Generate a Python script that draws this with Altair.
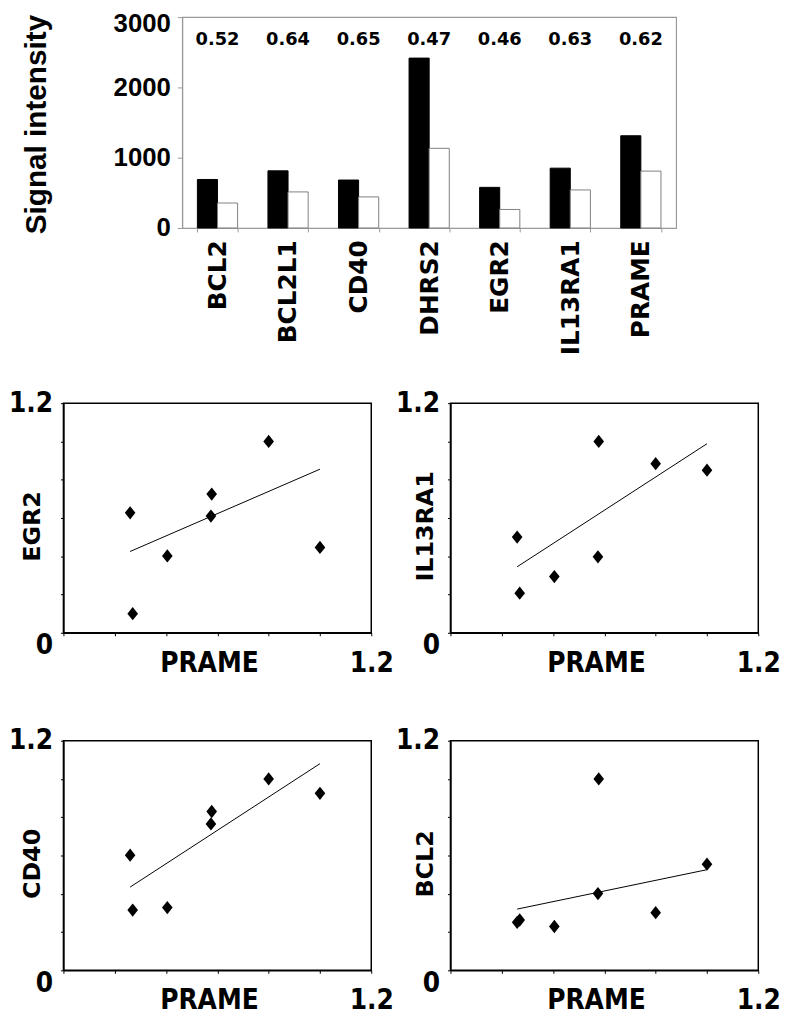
import altair as alt
import pandas as pd

# ---------------- data ----------------
genes = ["BCL2", "BCL2L1", "CD40", "DHRS2", "EGR2", "IL13RA1", "PRAME"]
black_values = [690, 813, 682, 2417, 578, 851, 1312]
white_values = [355, 513, 442, 1133, 263, 541, 809]
ratio_labels = ["0.52", "0.64", "0.65", "0.47", "0.46", "0.63", "0.62"]
groups = ["Group 1", "Group 2"]

prame = [0.26, 0.27, 0.405, 0.578, 0.575, 0.80, 1.00]
egr2 = [0.627, 0.100, 0.402, 0.725, 0.610, 1.00, 0.446]
il13ra1 = [0.50, 0.207, 0.294, 1.00, 0.397, 0.884, 0.85]
cd40 = [0.602, 0.315, 0.328, 0.830, 0.765, 1.00, 0.925]
bcl2 = [0.251, 0.263, 0.229, 1.00, 0.401, 0.301, 0.555]

# trend lines: [x_start, x_end], [y_start, y_end]
trend_x = [0.26, 1.00]
egr2_trend = [0.425, 0.855]
il13ra1_trend = [0.345, 0.988]
cd40_trend = [0.435, 1.080]
bcl2_trend = [0.320, 0.526]

scatter_ticks = [0, 0.2, 0.4, 0.6, 0.8, 1.0, 1.2]
bar_ticks = [0, 500, 1000, 1500, 2000, 2500, 3000]

BAR_W, BAR_H = 499, 213
PANEL_W, PANEL_H = 311, 232

COND = "DejaVu Sans Condensed, DejaVu Sans"

# ---------------- bar chart ----------------
bar_df = pd.DataFrame({
    "gene": genes * 2,
    "group": [groups[0]] * len(genes) + [groups[1]] * len(genes),
    "value": black_values + white_values,
})
ratio_df = pd.DataFrame({"gene": genes, "ratio": ratio_labels})

GRAY = "#9a9a9a"

x_bar = alt.X(
    "gene:N", sort=genes,
    scale=alt.Scale(paddingInner=0.43, paddingOuter=0.215),
    axis=alt.Axis(
        title=None, labelAngle=270, labelAlign="right", labelBaseline="middle",
        labelFont="DejaVu Sans", labelFontWeight="bold", labelFontSize=25,
        labelPadding=8, labelColor="black", tickBand="extent", tickSize=4,
        domainColor=GRAY, tickColor=GRAY, grid=False,
    ),
)
y_bar = alt.Y(
    "value:Q",
    scale=alt.Scale(domain=[0, 3000], nice=False),
    axis=alt.Axis(
        title="Signal intensity", values=bar_ticks, format="d",
        labelExpr="datum.value % 1000 == 0 ? datum.label : ''",
        labelFont="Liberation Sans", labelFontWeight="bold", labelFontSize=26,
        labelColor="black", labelPadding=7, tickSize=5,
        labelOffset={"condition": {"test": "datum.value == 3000", "value": 7}, "value": 0},
        domainColor=GRAY, tickColor=GRAY, grid=False,
        titleFont="Liberation Sans", titleFontWeight="bold", titleFontSize=30,
        titleColor="black", titleAngle=270, titleBaseline="middle", titleAlign="center",
        titleX=-147, titleY=108,
    ),
)

bars = alt.Chart(bar_df).mark_bar(strokeWidth=1).encode(
    x=x_bar,
    xOffset=alt.XOffset("group:N", sort=groups, scale=alt.Scale(paddingInner=0, paddingOuter=0)),
    y=y_bar,
    fill=alt.Fill("group:N", scale=alt.Scale(domain=groups, range=["black", "white"]), legend=None),
    stroke=alt.Stroke("group:N", scale=alt.Scale(domain=groups, range=["black", "#808080"]), legend=None),
)

ratio_text = alt.Chart(ratio_df).mark_text(
    font="DejaVu Sans", fontWeight="bold", fontSize=18, baseline="middle", dy=23.5, color="black"
).encode(
    x=alt.X("gene:N", sort=genes),
    y=alt.datum(3000),
    text="ratio:N",
)

bar_chart = alt.layer(bars, ratio_text).properties(
    width=BAR_W, height=BAR_H, view=alt.ViewBackground(stroke=GRAY, strokeWidth=1.2)
)

spacer = alt.Chart(pd.DataFrame({"v": [0]})).mark_point(opacity=0).encode(
    x=alt.X("v:Q", axis=None), y=alt.Y("v:Q", axis=None)
).properties(width=120, height=BAR_H, view=alt.ViewBackground(stroke=None))

top_row = alt.hconcat(spacer, bar_chart, spacing=0, bounds="flush")


# ---------------- scatter panels ----------------
def panel(gene_name, values, trend, title_x):
    pts_df = pd.DataFrame({"PRAME": prame, gene_name: values})
    line_df = pd.DataFrame({"PRAME": trend_x, gene_name: trend})
    x_enc = alt.X(
        "PRAME:Q", scale=alt.Scale(domain=[0, 1.2], nice=False, zero=False),
        axis=alt.Axis(
            title="PRAME", values=scatter_ticks, labelFlush=False,
            labelExpr="datum.value > 1.1 ? '1.2' : ''",
            labelFont=COND, labelFontWeight="bold", labelFontSize=28,
            labelColor="black", labelPadding=14, tickSize=3,
            domainColor="black", tickColor="black", domainWidth=1.5, grid=False,
            titleFont=COND, titleFontWeight="bold", titleFontSize=28,
            titleColor="black", titleX=147, titleY=17, titleBaseline="top",
            titleAlign="center",
        ),
    )
    y_enc = alt.Y(
        f"{gene_name}:Q", scale=alt.Scale(domain=[0, 1.2], nice=False, zero=False),
        axis=alt.Axis(
            title=gene_name, values=scatter_ticks,
            labelExpr="datum.value == 0 ? '0' : (datum.value > 1.1 ? '1.2' : '')",
            labelOffset={"condition": {"test": "datum.value == 0", "value": 13}, "value": 0},
            labelFont=COND, labelFontWeight="bold", labelFontSize=28,
            labelColor="black", labelPadding=8, tickSize=3,
            domainColor="black", tickColor="black", domainWidth=1.5, grid=False,
            titleFont="DejaVu Sans", titleFontWeight="bold", titleFontSize=24,
            titleColor="black", titleAngle=270, titleBaseline="middle",
            titleAlign="center", titleX=title_x, titleY=124,
        ),
    )
    line = alt.Chart(line_df).mark_line(color="black", strokeWidth=1).encode(x=x_enc, y=y_enc)
    pts = alt.Chart(pts_df).mark_point(
        shape="M0,-1L0.8,0L0,1L-0.8,0Z", filled=True, color="black", size=180, opacity=1
    ).encode(x=x_enc, y=y_enc)
    return alt.layer(line, pts).properties(
        width=PANEL_W, height=PANEL_H, view=alt.ViewBackground(stroke="black", strokeWidth=1.5)
    )


# nested flush concats are laid out top-to-top, so the spacing includes the row height
row1 = alt.hconcat(
    panel("EGR2", egr2, egr2_trend, -31),
    panel("IL13RA1", il13ra1, il13ra1_trend, -25),
    spacing=80, bounds="flush",
)
row2 = alt.hconcat(
    panel("CD40", cd40, cd40_trend, -31),
    panel("BCL2", bcl2, bcl2_trend, -25),
    spacing=80, bounds="flush",
)
grid = alt.vconcat(row1, row2, spacing=PANEL_H + 109, bounds="flush")

chart = alt.vconcat(top_row, grid, spacing=BAR_H + 177, bounds="flush").properties(
    padding={"left": -1, "top": -3, "right": 4, "bottom": 4},
    background="white",
).configure(font="DejaVu Sans")

chart.save("out.html", embed_options={"renderer": "svg", "actions": False})
